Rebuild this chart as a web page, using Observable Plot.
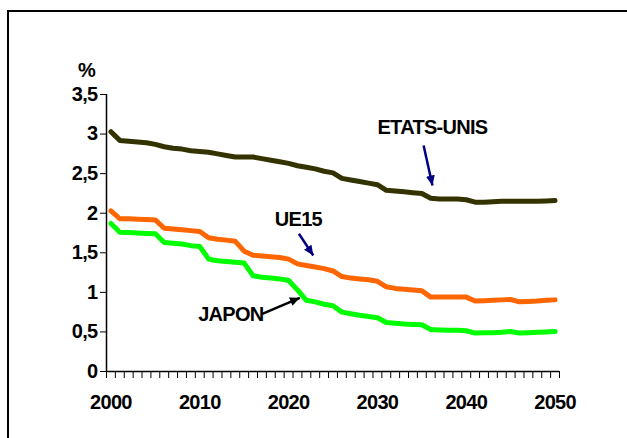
<!DOCTYPE html>
<html>
<head>
<meta charset="utf-8">
<script src="https://cdn.jsdelivr.net/npm/d3@7"></script>
<script src="https://cdn.jsdelivr.net/npm/@observablehq/plot@0.6"></script>
<style>
  html, body { margin: 0; padding: 0; background: #fff; overflow: hidden; }
  body { position: relative; width: 627px; height: 438px; }
  #frame { position: absolute; left: 7px; top: 10px; width: 660px; height: 480px; border: 2px solid #000; box-sizing: border-box; pointer-events: none; }
  #chart { position: absolute; left: 0; top: 0; }
  #chart svg text { letter-spacing: -0.7px; }
</style>
</head>
<body>
<div id="chart"></div>
<div id="frame"></div>
<script>
const years = d3.range(2000, 2051);
const etatsUnis = [3.03, 2.92, 2.91, 2.90, 2.89, 2.87, 2.84, 2.82, 2.81, 2.79,
  2.78, 2.77, 2.75, 2.73, 2.71, 2.71, 2.71, 2.69, 2.67, 2.65,
  2.63, 2.60, 2.58, 2.56, 2.53, 2.51, 2.44, 2.42, 2.40, 2.38,
  2.36, 2.29, 2.28, 2.27, 2.26, 2.25, 2.19, 2.18, 2.18, 2.18,
  2.17, 2.14, 2.14, 2.145, 2.15, 2.15, 2.15, 2.15, 2.15, 2.155, 2.16];
const ue15 = [2.03, 1.93, 1.93, 1.925, 1.92, 1.915, 1.81, 1.80, 1.79, 1.78,
  1.77, 1.69, 1.67, 1.66, 1.645, 1.52, 1.47, 1.46, 1.45, 1.44,
  1.42, 1.36, 1.34, 1.32, 1.30, 1.27, 1.20, 1.18, 1.17, 1.16,
  1.14, 1.07, 1.05, 1.04, 1.03, 1.02, 0.94, 0.94, 0.94, 0.94,
  0.94, 0.89, 0.895, 0.90, 0.905, 0.91, 0.88, 0.885, 0.89, 0.90, 0.905];
const japon = [1.87, 1.76, 1.755, 1.75, 1.745, 1.74, 1.63, 1.62, 1.61, 1.59,
  1.58, 1.42, 1.40, 1.39, 1.38, 1.37, 1.21, 1.19, 1.18, 1.17,
  1.15, 1.03, 0.90, 0.88, 0.85, 0.83, 0.75, 0.73, 0.71, 0.695,
  0.68, 0.62, 0.61, 0.60, 0.595, 0.59, 0.53, 0.525, 0.52, 0.52,
  0.515, 0.485, 0.49, 0.49, 0.495, 0.505, 0.485, 0.49, 0.495, 0.50, 0.505];
const yTicks = [0, 0.5, 1, 1.5, 2, 2.5, 3, 3.5];
const xTickLabels = [2000, 2010, 2020, 2030, 2040, 2050];

const seriesNames = ["ETATS-UNIS", "UE15", "JAPON"];
const seriesColors = ["#333300", "#ff6600", "#00ff00"];
const seriesValues = [etatsUnis, ue15, japon];
const rows = seriesNames.flatMap((name, i) => years.map((yr, j) => ({series: name, year: yr, value: seriesValues[i][j]})));

// annotations (data coordinates)
const labels = [
  {text: "ETATS-UNIS", year: 2036.2, value: 3.076},
  {text: "UE15", year: 2021.1, value: 1.914},
  {text: "JAPON", year: 2013.5, value: 0.714}
];
const arrows = [
  {x1: 2035.2, y1: 2.856, x2: 2036.2, y2: 2.35, color: "#000080"},
  {x1: 2021.16, y1: 1.74, x2: 2022.78, y2: 1.466, color: "#000080"},
  {x1: 2017.04, y1: 0.729, x2: 2021.27, y2: 0.931, color: "#000000"}
];

const FONT = "'Liberation Sans', Arial, sans-serif";
const FS = 20;

function filledHead(color, context) {
  const ns = "http://www.w3.org/2000/svg";
  const doc = context && context.document ? context.document : document;
  const m = doc.createElementNS(ns, "marker");
  m.setAttribute("viewBox", "-10 -5 10 10");
  m.setAttribute("markerWidth", "4");
  m.setAttribute("markerHeight", "4");
  m.setAttribute("orient", "auto");
  m.setAttribute("fill", color);
  m.setAttribute("stroke", "none");
  const p = doc.createElementNS(ns, "path");
  p.setAttribute("d", "M-10,-4.5L0,0L-10,4.5Z");
  m.appendChild(p);
  return m;
}

const plot = Plot.plot({
  width: 627,
  height: 438,
  marginLeft: 106,
  marginRight: 68,
  marginTop: 94,
  marginBottom: 67,
  style: {fontFamily: FONT, fontSize: FS + "px", fontWeight: "bold", color: "#000", background: "transparent"},
  x: {domain: [1999.5, 2050.5]},
  y: {domain: [0, 3.5]},
  color: {domain: seriesNames, range: seriesColors},
  marks: [
    Plot.axisY({ticks: yTicks, tickSize: 6, tickPadding: 3, tickFormat: d => String(d).replace(".", ","), label: null, stroke: "#000", strokeOpacity: 1, fontSize: FS, fontWeight: "bold"}),
    Plot.axisX({ticks: d3.range(1999.5, 2051, 1), tickSize: 7, tickFormat: () => "", label: null, stroke: "#000", strokeOpacity: 1, strokeWidth: 1}),
    Plot.axisX({ticks: xTickLabels, tickSize: 0, tickPadding: 23, tickFormat: d => String(d), label: null, fontSize: FS, fontWeight: "bold"}),
    Plot.ruleY([0], {stroke: "#000", strokeWidth: 1.5}),
    Plot.ruleX([1999.5], {y1: 0, y2: 3.5, stroke: "#000", strokeWidth: 1.5}),
    Plot.text(["%"], {frameAnchor: "top-left", textAnchor: "middle", dx: -20, dy: -32, fontSize: FS, fontWeight: "bold", fill: "#000"}),
    Plot.line(rows, {x: "year", y: "value", z: "series", stroke: "series", strokeWidth: 5, strokeLinejoin: "round", strokeLinecap: "round"}),
    Plot.link(arrows, {x1: "x1", y1: "y1", x2: "x2", y2: "y2", stroke: "color", strokeWidth: 2.5, markerEnd: filledHead}),
    Plot.text(labels, {x: "year", y: "value", text: "text", fontSize: FS, fontWeight: "bold", fill: "#000"})
  ]
});
document.getElementById("chart").appendChild(plot);
</script>
</body>
</html>
